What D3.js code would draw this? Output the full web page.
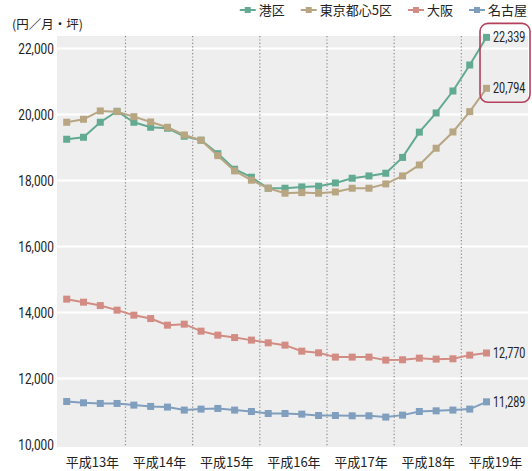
<!DOCTYPE html>
<html lang="ja">
<head>
<meta charset="utf-8">
<script src="https://cdn.jsdelivr.net/npm/d3@7"></script>
<style>
  html, body { margin: 0; padding: 0; background: #ffffff; }
  svg { display: block; }
  .num { font-family: "Roboto", "Liberation Sans", sans-serif; fill: #222; }
  .jp  { font-family: "Noto Sans CJK JP", "Noto Sans", sans-serif; fill: #222; }
</style>
</head>
<body>
<svg id="chart" width="532" height="471"></svg>
<script>
// Quarterly average office rent (yen / month / tsubo), H13 Q1 – H19 Q2
const quarterIndex = d3.range(26);
const yearLabels = ["平成13年", "平成14年", "平成15年", "平成16年", "平成17年", "平成18年", "平成19年"];
const yTicks = [10000, 12000, 14000, 16000, 18000, 20000, 22000];
const seriesNames = ["港区", "東京都心5区", "大阪", "名古屋"];
const seriesColors = ["#63aa93", "#b8a682", "#d38c84", "#809ebe"];

const minato = [19250, 19310, 19765, 20098, 19765, 19613, 19583, 19341, 19220, 18814, 18341, 18099, 17765,
                17765, 17805, 17826, 17926, 18068, 18138, 18220, 18699, 19465, 20047, 20713, 21501, 22339];
const tokyo5 = [19765, 19856, 20108, 20086, 19935, 19774, 19613, 19380, 19220, 18753, 18290, 18008, 17765,
                17614, 17632, 17614, 17653, 17765, 17765, 17896, 18138, 18471, 18977, 19471, 20086, 20794];
const osaka  = [14402, 14311, 14208, 14069, 13917, 13814, 13614, 13644, 13432, 13311, 13238, 13160, 13078,
                13008, 12826, 12775, 12645, 12645, 12645, 12554, 12564, 12614, 12584, 12594, 12705, 12770];
const nagoya = [11299, 11260, 11240, 11240, 11190, 11150, 11130, 11039, 11069, 11089, 11039, 10996, 10936,
                10936, 10916, 10875, 10875, 10866, 10866, 10827, 10886, 10996, 11017, 11039, 11069, 11289];
const seriesValues = [minato, tokyo5, osaka, nagoya];
const labelledSeries = [0, 1, 2, 3];

const svg = d3.select("#chart");
const plot = { left: 57, right: 528, top: 36, bottom: 447 };
const narrow = 0.79; // horizontal squeeze for the condensed numerals

const x = d3.scaleLinear().domain([-0.5, 27.5]).range([plot.left + 1.3, plot.right + 0.5]);
const y = d3.scaleLinear().domain([9920, 22380]).range([plot.bottom, plot.top]);

// plot background
svg.append("rect")
  .attr("x", plot.left).attr("y", plot.top)
  .attr("width", plot.right - plot.left).attr("height", plot.bottom - plot.top)
  .attr("fill", "#eeeeee");

// horizontal grid
svg.append("g").selectAll("line").data(yTicks.filter(v => v > 10000)).join("line")
  .attr("x1", plot.left).attr("x2", plot.right)
  .attr("y1", d => y(d)).attr("y2", d => y(d))
  .attr("stroke", "#ffffff").attr("stroke-width", 2);

// year separators
svg.append("g").selectAll("line").data(d3.range(1, 7)).join("line")
  .attr("x1", d => x(d * 4 - 0.5)).attr("x2", d => x(d * 4 - 0.5))
  .attr("y1", plot.top).attr("y2", plot.bottom)
  .attr("stroke", "#8a8a8a").attr("stroke-width", 1.2).attr("stroke-dasharray", "1.2,2.2");

// y axis labels
const yAxis = d3.axisLeft(y).tickValues(yTicks).tickFormat(d3.format(",")).tickSize(0).tickPadding(4);
svg.append("g").attr("transform", `translate(${plot.left},0)`).call(yAxis)
  .call(g => g.select(".domain").remove())
  .selectAll("text").attr("class", "num").attr("font-size", 15).attr("fill", "#222")
  .attr("transform", `scale(${narrow},1)`);

// x axis year labels
const xAxis = d3.axisBottom(x).tickValues(yearLabels.map((_, i) => i * 4 + 1.5))
  .tickFormat((d, i) => yearLabels[i]).tickSize(0).tickPadding(11);
svg.append("g").attr("transform", `translate(0,${plot.bottom})`).call(xAxis)
  .call(g => g.select(".domain").remove())
  .selectAll("text").attr("class", "jp").attr("font-size", 13).attr("fill", "#222");

// unit label
svg.append("text").attr("class", "jp").attr("x", 12).attr("y", 29)
  .attr("font-size", 12.5).text("(円／月・坪)");

// series lines and markers
const line = d3.line().x((d, i) => x(i)).y(d => y(d));
const ms = 7;
seriesValues.forEach((vals, s) => {
  const g = svg.append("g");
  g.append("path").datum(vals).attr("d", line)
    .attr("fill", "none").attr("stroke", seriesColors[s]).attr("stroke-width", 2);
  g.selectAll("rect").data(vals).join("rect")
    .attr("x", (d, i) => x(i) - ms / 2).attr("y", d => y(d) - ms / 2)
    .attr("width", ms).attr("height", ms).attr("fill", seriesColors[s]);
});

// end-value labels
const last = quarterIndex.length - 1;
const endLabels = svg.append("g");
labelledSeries.forEach(s => {
  const v = seriesValues[s][last];
  endLabels.append("g").attr("transform", `translate(${x(last) + 6.5},${y(v)}) scale(${narrow - 0.02},1)`)
    .append("text").attr("class", "num").attr("dy", "0.36em")
    .attr("font-size", 14).text(d3.format(",")(v));
});

// highlight box around the two Tokyo end values
const topY = y(minato[last]), botY = y(tokyo5[last]);
svg.append("rect")
  .attr("x", x(last) - 6.5).attr("y", topY - 14)
  .attr("width", 50).attr("height", botY - topY + 28)
  .attr("rx", 8).attr("ry", 8)
  .attr("fill", "none").attr("stroke", "#b3415b").attr("stroke-width", 1.6);

// legend, laid out left to right and aligned to the right edge
const legend = svg.append("g").attr("transform", "translate(0,10)");
const items = [];
let lx = 0;
seriesNames.forEach((name, s) => {
  const item = legend.append("g");
  item.append("line").attr("x1", 0).attr("x2", 16).attr("y1", 0).attr("y2", 0)
    .attr("stroke", seriesColors[s]).attr("stroke-width", 2);
  item.append("rect").attr("x", 5).attr("y", -3).attr("width", 6).attr("height", 6)
    .attr("fill", seriesColors[s]);
  const t = item.append("text").attr("class", "jp").attr("x", 19).attr("y", 0).attr("dy", "0.36em")
    .attr("font-size", 13).text(name);
  items.push({ item, at: lx });
  lx += 19 + t.node().getComputedTextLength() + (s < seriesNames.length - 1 ? 16 : 0);
});
const legendStart = 527 - lx;
items.forEach(d => d.item.attr("transform", `translate(${legendStart + d.at},0)`));
</script>
</body>
</html>
